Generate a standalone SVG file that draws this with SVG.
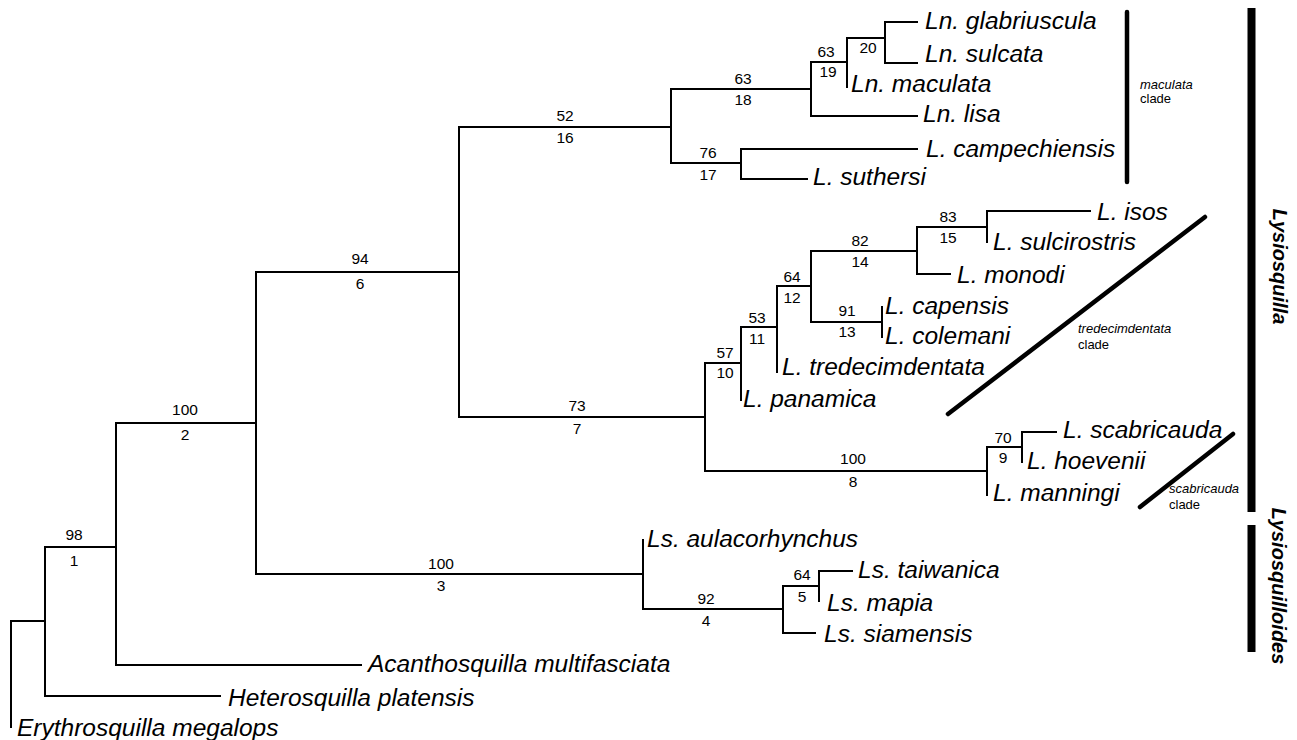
<svg xmlns="http://www.w3.org/2000/svg" width="1297" height="740" viewBox="0 0 1297 740">
<style>
.br{fill:none;stroke:#000;stroke-width:2;stroke-linecap:square}
.sp{font-family:"Liberation Sans",Arial,sans-serif;font-style:italic;font-size:24.5px;fill:#000}
.num{font-family:"Liberation Sans",Arial,sans-serif;font-size:15.5px;fill:#000;text-anchor:middle}
.cl{font-family:"Liberation Sans",Arial,sans-serif;font-size:13px;fill:#000}
.cl .it{font-style:italic}
.gen{font-family:"Liberation Sans",Arial,sans-serif;font-style:italic;font-weight:bold;font-size:20px;fill:#000;text-anchor:middle}
.bar{fill:none;stroke:#000;stroke-width:4.5;stroke-linecap:round}
</style>
<rect width="1297" height="740" fill="#fff"/>
<g id="connectors">
<path class="br" d="M11,621 V727 M11,621 H45"/>
<path class="br" d="M45,547 V696 M45,547 H116 M45,696 H220"/>
<path class="br" d="M116,423 V665 M116,423 H256 M116,665 H361"/>
<path class="br" d="M256,272 V574 M256,272 H459 M256,574 H643"/>
<path class="br" d="M459,127 V417 M459,127 H671 M459,417 H705"/>
<path class="br" d="M671,89 V163 M671,89 H811 M671,163 H741"/>
<path class="br" d="M811,62 V116 M811,62 H847 M811,116 H917"/>
<path class="br" d="M847,38 V87 M847,38 H885"/>
<path class="br" d="M885,22 V63 M885,22 H917 M885,63 H917"/>
<path class="br" d="M741,149 V179 M741,149 H917 M741,179 H807"/>
<path class="br" d="M705,363 V471 M705,363 H741 M705,471 H987"/>
<path class="br" d="M741,327 V400 M741,327 H777"/>
<path class="br" d="M777,286 V372 M777,286 H811"/>
<path class="br" d="M811,251 V322 M811,251 H917 M811,322 H882"/>
<path class="br" d="M917,227 V274 M917,227 H987 M917,274 H950"/>
<path class="br" d="M987,211 V242 M987,211 H1090"/>
<path class="br" d="M882,307 V337"/>
<path class="br" d="M987,447 V495 M987,447 H1022"/>
<path class="br" d="M1022,432 V462 M1022,432 H1056"/>
<path class="br" d="M643,540 V609 M643,609 H783"/>
<path class="br" d="M783,586 V633 M783,586 H819 M783,633 H815"/>
<path class="br" d="M819,571 V601 M819,571 H852"/>
</g>
<g id="tips">
<g id="t-glabriuscula"><text class="sp" x="925" y="29">Ln. glabriuscula</text></g>
<g id="t-sulcata"><text class="sp" x="925" y="62">Ln. sulcata</text></g>
<g id="t-maculata"><text class="sp" x="851" y="92">Ln. maculata</text></g>
<g id="t-lisa"><text class="sp" x="923" y="122">Ln. lisa</text></g>
<g id="t-campechiensis"><text class="sp" x="926" y="157">L. campechiensis</text></g>
<g id="t-suthersi"><text class="sp" x="813" y="185">L. suthersi</text></g>
<g id="t-isos"><text class="sp" x="1097" y="220">L. isos</text></g>
<g id="t-sulcirostris"><text class="sp" x="993" y="250">L. sulcirostris</text></g>
<g id="t-monodi"><text class="sp" x="957" y="283">L. monodi</text></g>
<g id="t-capensis"><text class="sp" x="885" y="314">L. capensis</text></g>
<g id="t-colemani"><text class="sp" x="885" y="344">L. colemani</text></g>
<g id="t-tredecimdentata"><text class="sp" x="782" y="375">L. tredecimdentata</text></g>
<g id="t-panamica"><text class="sp" x="743" y="407">L. panamica</text></g>
<g id="t-scabricauda"><text class="sp" x="1063" y="438">L. scabricauda</text></g>
<g id="t-hoevenii"><text class="sp" x="1027" y="469">L. hoevenii</text></g>
<g id="t-manningi"><text class="sp" x="993" y="501">L. manningi</text></g>
<g id="t-aulacorhynchus"><text class="sp" x="647" y="547">Ls. aulacorhynchus</text></g>
<g id="t-taiwanica"><text class="sp" x="858" y="578">Ls. taiwanica</text></g>
<g id="t-mapia"><text class="sp" x="827" y="611">Ls. mapia</text></g>
<g id="t-siamensis"><text class="sp" x="824" y="642">Ls. siamensis</text></g>
<g id="t-acanthosquilla"><text class="sp" x="368" y="672">Acanthosquilla multifasciata</text></g>
<g id="t-heterosquilla"><text class="sp" x="228" y="706">Heterosquilla platensis</text></g>
<g id="t-erythrosquilla"><text class="sp" x="17" y="736">Erythrosquilla megalops</text></g>
</g>
<g id="nodes">
<g id="n1"><text class="num" x="74" y="540">98</text><text class="num" x="74" y="566">1</text></g>
<g id="n2"><text class="num" x="185" y="415">100</text><text class="num" x="185" y="440">2</text></g>
<g id="n3"><text class="num" x="441" y="569">100</text><text class="num" x="441" y="591">3</text></g>
<g id="n4"><text class="num" x="706" y="604">92</text><text class="num" x="706" y="626">4</text></g>
<g id="n5"><text class="num" x="802" y="580">64</text><text class="num" x="802" y="602">5</text></g>
<g id="n6"><text class="num" x="360" y="264">94</text><text class="num" x="360" y="289">6</text></g>
<g id="n7"><text class="num" x="577" y="411">73</text><text class="num" x="577" y="434">7</text></g>
<g id="n8"><text class="num" x="853" y="464">100</text><text class="num" x="853" y="487">8</text></g>
<g id="n9"><text class="num" x="1003" y="443">70</text><text class="num" x="1003" y="463">9</text></g>
<g id="n10"><text class="num" x="725" y="358">57</text><text class="num" x="725" y="378">10</text></g>
<g id="n11"><text class="num" x="757" y="323">53</text><text class="num" x="757" y="344">11</text></g>
<g id="n12"><text class="num" x="792" y="282">64</text><text class="num" x="792" y="303">12</text></g>
<g id="n13"><text class="num" x="847" y="316">91</text><text class="num" x="847" y="337">13</text></g>
<g id="n14"><text class="num" x="860" y="246">82</text><text class="num" x="860" y="267">14</text></g>
<g id="n15"><text class="num" x="948" y="222">83</text><text class="num" x="948" y="243">15</text></g>
<g id="n16"><text class="num" x="565" y="121">52</text><text class="num" x="565" y="143">16</text></g>
<g id="n17"><text class="num" x="708" y="158">76</text><text class="num" x="708" y="180">17</text></g>
<g id="n18"><text class="num" x="743" y="84">63</text><text class="num" x="743" y="105">18</text></g>
<g id="n19"><text class="num" x="826" y="57">63</text><text class="num" x="828" y="77">19</text></g>
<g id="n20"><text class="num" x="868" y="53">20</text></g>
</g>
<g id="clades">
<g id="c-maculata"><line class="bar" x1="1127" y1="12" x2="1127" y2="182" stroke-linecap="butt"/><text class="cl" x="1140" y="89"><tspan class="it">maculata</tspan></text><text class="cl" x="1140" y="103">clade</text></g>
<g id="c-tredecimdentata"><line class="bar" x1="948" y1="414" x2="1205" y2="217"/><text class="cl" x="1078" y="333"><tspan class="it">tredecimdentata</tspan></text><text class="cl" x="1078" y="349">clade</text></g>
<g id="c-scabricauda"><line class="bar" x1="1140" y1="507" x2="1233" y2="434"/><text class="cl" x="1169" y="493"><tspan class="it">scabricauda</tspan></text><text class="cl" x="1169" y="509">clade</text></g>
<g id="g-lysiosquilla"><rect x="1247.5" y="8" width="8" height="504" fill="#000"/><text class="gen" transform="translate(1273,266.5) rotate(90)">Lysiosquilla</text></g>
<g id="g-lysiosquilloides"><rect x="1247.5" y="525" width="8" height="127" fill="#000"/><text class="gen" transform="translate(1272,586) rotate(90)">Lysiosquilloides</text></g>
</g>
</svg>
